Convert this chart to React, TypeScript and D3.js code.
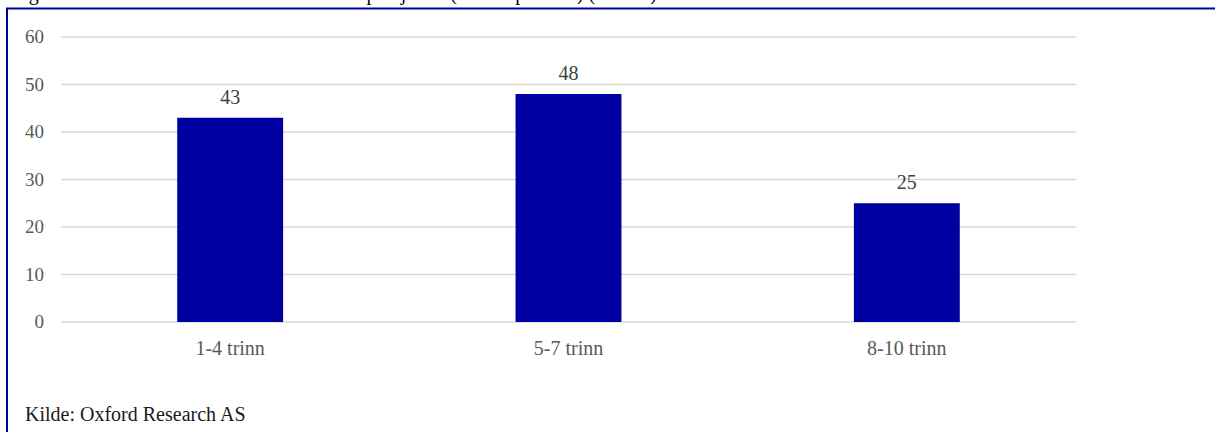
import React, { useRef, useEffect } from 'react';
import * as d3 from 'd3';

const categories = ['1-4 trinn', '5-7 trinn', '8-10 trinn'];
const values = [43, 48, 25];
const yTicks = [0, 10, 20, 30, 40, 50, 60];
const titleText = 'Figur 6: Antall lærere som har deltatt i skoleprosjektet (fordelt på trinn) (N=116)';
const sourceText = 'Kilde: Oxford Research AS';

const W = 1215;
const H = 432;
const FONT = '"Liberation Serif", "Times New Roman", serif';

const App: React.FC = () => {
  const ref = useRef<SVGSVGElement>(null);

  useEffect(() => {
    if (!ref.current) return;
    const svg = d3.select(ref.current);
    svg.selectAll('*').remove();

    const plot = { left: 61, right: 1076, top: 37, bottom: 322 };

    const x = d3.scaleBand<string>()
      .domain(categories)
      .range([plot.left, plot.right])
      .paddingInner(0.687)
      .paddingOuter(0.3435);

    const y = d3.scaleLinear()
      .domain([0, 60])
      .range([plot.bottom, plot.top]);

    // title, cut off at the top so only descenders show
    svg.append('text')
      .attr('x', 12)
      .attr('y', -0.5)
      .attr('font-family', FONT)
      .attr('font-size', 20)
      .attr('fill', '#000')
      .text(titleText);

    // frame
    svg.append('rect')
      .attr('x', 7)
      .attr('y', 8.5)
      .attr('width', W + 20)
      .attr('height', H + 20)
      .attr('fill', 'none')
      .attr('stroke', '#0000a0')
      .attr('stroke-width', 2);

    // gridlines
    svg.append('g')
      .selectAll('line')
      .data(yTicks)
      .enter()
      .append('line')
      .attr('x1', plot.left)
      .attr('x2', plot.right)
      .attr('y1', d => y(d))
      .attr('y2', d => y(d))
      .attr('stroke', '#d9d9d9')
      .attr('stroke-width', 1.5);

    // y labels
    svg.append('g')
      .selectAll('text')
      .data(yTicks)
      .enter()
      .append('text')
      .attr('x', 44)
      .attr('y', d => y(d))
      .attr('dy', '0.33em')
      .attr('text-anchor', 'end')
      .attr('font-family', FONT)
      .attr('font-size', 19)
      .attr('fill', '#595959')
      .text(d => d);

    // bars
    svg.append('g')
      .selectAll('rect')
      .data(values)
      .enter()
      .append('rect')
      .attr('x', (_, i) => x(categories[i]) || 0)
      .attr('width', x.bandwidth())
      .attr('y', d => y(d))
      .attr('height', d => plot.bottom - y(d))
      .attr('fill', '#0000a2');

    // value labels
    svg.append('g')
      .selectAll('text')
      .data(values)
      .enter()
      .append('text')
      .attr('x', (_, i) => (x(categories[i]) || 0) + x.bandwidth() / 2)
      .attr('y', d => y(d) - 14)
      .attr('text-anchor', 'middle')
      .attr('font-family', FONT)
      .attr('font-size', 20)
      .attr('fill', '#404040')
      .text(d => d);

    // x labels
    svg.append('g')
      .selectAll('text')
      .data(categories)
      .enter()
      .append('text')
      .attr('x', d => (x(d) || 0) + x.bandwidth() / 2)
      .attr('y', 355)
      .attr('text-anchor', 'middle')
      .attr('font-family', FONT)
      .attr('font-size', 20)
      .attr('fill', '#595959')
      .text(d => d);

    // source
    svg.append('text')
      .attr('x', 25)
      .attr('y', 421)
      .attr('font-family', FONT)
      .attr('font-size', 20)
      .attr('fill', '#1a1a1a')
      .text(sourceText);
  }, []);

  return (
    <svg
      ref={ref}
      width={W}
      height={H}
      style={{ position: 'absolute', left: 0, top: 0, background: '#fff' }}
    />
  );
};

export default App;
